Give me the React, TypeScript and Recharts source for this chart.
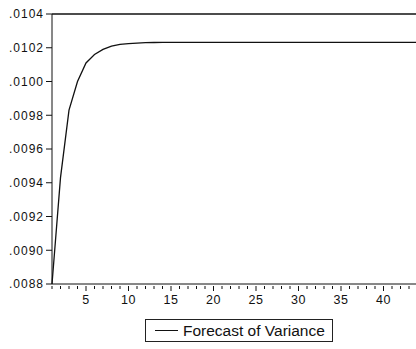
import { LineChart, Line, XAxis, YAxis, ReferenceLine, Legend } from "recharts";

// forecast horizon 1..45 (the right end runs past the visible frame)
const periods = Array.from({ length: 45 }, (_, i) => i + 1);
const tickPeriods = periods.slice(0, 44);

const variance = [
  0.00880, 0.00943, 0.00983, 0.01000, 0.01011, 0.01016, 0.01019, 0.01021, 0.01022, 0.010225,
  0.010228, 0.01023, 0.010231, 0.010232, 0.010232, 0.010232, 0.010232, 0.010232, 0.010232, 0.010232,
  0.010232, 0.010232, 0.010232, 0.010232, 0.010232, 0.010232, 0.010232, 0.010232, 0.010232, 0.010232,
  0.010232, 0.010232, 0.010232, 0.010232, 0.010232, 0.010232, 0.010232, 0.010232, 0.010232, 0.010232,
  0.010232, 0.010232, 0.010232, 0.010232, 0.010232,
];

const yTicks = [0.0088, 0.009, 0.0092, 0.0094, 0.0096, 0.0098, 0.01, 0.0102, 0.0104];

const data = periods.map((p, i) => ({ period: p, value: variance[i] }));

const FONT = "'Liberation Sans', Arial, sans-serif";

const fmtY = (v: number) => v.toFixed(4).replace(/^0/, "");

// minor tick every period, longer tick + label every 5
const XTick = (props: any) => {
  const { x, y, payload } = props;
  const major = payload.value % 5 === 0;
  return (
    <g>
      <line x1={x} x2={x} y1={y} y2={y + (major ? 5 : 3)} stroke="#111" strokeWidth={1} />
      {major && (
        <text x={x} y={y + 18} textAnchor="middle" fontSize={12.5} fontFamily={FONT} fill="#111" letterSpacing={0.5}>
          {payload.value}
        </text>
      )}
    </g>
  );
};

const LegendBox = () => (
  <div
    style={{
      border: "1px solid #222",
      width: 188,
      height: 23,
      display: "flex",
      alignItems: "center",
      fontFamily: FONT,
      fontSize: 15.5,
      color: "#111",
      boxSizing: "border-box",
      whiteSpace: "nowrap",
    }}
  >
    <div style={{ width: 23, height: 0, borderTop: "1px solid #111", marginLeft: 9, marginRight: 5 }} />
    <span>Forecast of Variance</span>
  </div>
);

export default function App() {
  return (
    <div style={{ position: "fixed", left: 0, top: 0, width: 416, height: 349, overflow: "hidden", background: "#fff" }}>
      <LineChart width={426} height={349} data={data} margin={{ top: 14, right: 0, bottom: 0, left: 0 }}>
        <XAxis
          dataKey="period"
          type="number"
          domain={[1, 45]}
          ticks={tickPeriods}
          interval={0}
          tickLine={false}
          tick={<XTick />}
          tickSize={0}
          stroke="#111"
          height={42}
        />
        <YAxis
          type="number"
          domain={[0.0088, 0.0104]}
          ticks={yTicks}
          tickFormatter={fmtY}
          tickSize={6}
          tickMargin={2}
          width={52}
          stroke="#111"
          tick={{ fontSize: 12, fontFamily: FONT, fill: "#111", letterSpacing: 1 }}
          allowDataOverflow
        />
        <ReferenceLine y={0.0104} stroke="#111" strokeWidth={1.5} />
        <Line
          type="linear"
          dataKey="value"
          stroke="#111"
          strokeWidth={1.3}
          dot={false}
          isAnimationActive={false}
        />
        <Legend
          content={() => <LegendBox />}
          wrapperStyle={{ position: "absolute", left: 145, top: 319, width: 188, bottom: "auto" }}
        />
      </LineChart>
    </div>
  );
}
